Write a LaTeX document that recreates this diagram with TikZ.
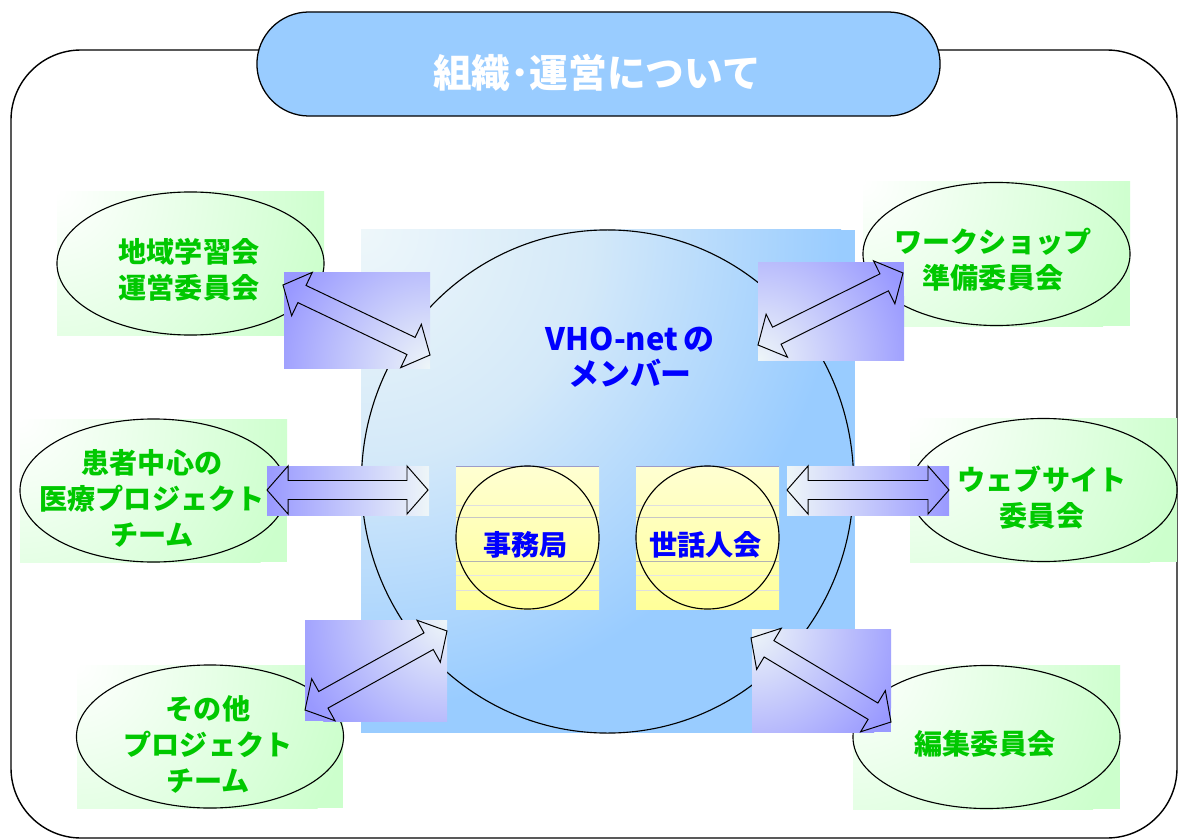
\documentclass[tikz,border=0pt]{standalone}
\usepackage{fontspec}
\setmainfont{Noto Sans CJK JP}
\usetikzlibrary{calc,shapes.geometric}
\definecolor{pillblue}{HTML}{99CCFF}
\definecolor{sqlight}{HTML}{EEF7FA}
\definecolor{sqmid}{HTML}{D4E9F9}
\definecolor{sqblue}{HTML}{99CCFF}
\definecolor{gfill}{HTML}{CCFFCC}
\definecolor{violetA}{HTML}{9999FF}
\definecolor{paleA}{HTML}{EEF6F8}
\definecolor{ytop}{HTML}{FFFFD2}
\definecolor{ybot}{HTML}{FFFF99}
\definecolor{gtext}{HTML}{00C800}
\definecolor{btext}{HTML}{0000FF}
\pgfdeclareradialshading{sqshade}{\pgfpoint{0bp}{0bp}}{color(0bp)=(sqlight); color(12bp)=(sqmid); color(25bp)=(sqblue); color(50bp)=(sqblue)}

\newcommand\dblarrow[2]{%
  \draw[arrowline] (#1)
   -- ($(#1)!0.525cm!(#2)!0.6cm!90:(#2)$)
   -- ($(#1)!0.525cm!(#2)!0.2375cm!90:(#2)$)
   -- ($(#2)!0.525cm!(#1)!0.2375cm!-90:(#1)$)
   -- ($(#2)!0.525cm!(#1)!0.6cm!-90:(#1)$)
   -- (#2)
   -- ($(#2)!0.525cm!(#1)!0.6cm!90:(#1)$)
   -- ($(#2)!0.525cm!(#1)!0.2375cm!90:(#1)$)
   -- ($(#1)!0.525cm!(#2)!0.2375cm!-90:(#2)$)
   -- ($(#1)!0.525cm!(#2)!0.6cm!-90:(#2)$)
   -- cycle;}

\newcommand\greenpanel[5]{%
  \begin{scope}
    \clip (#2,#3) rectangle (#4,#5);
    \fill[gfill] (#2,#3) rectangle (#4,#5);
    \shade[inner color=white, outer color=gfill] (#2,#3) circle (7cm);
  \end{scope}
  \node[panelellipse] (#1) at ($(#2,#3)!0.5!(#4,#5)$) {};}

\newcommand\cornerpanel[6]{% x1 y1 x2 y2 cx cy
  \begin{scope}
    \clip (#1,#2) rectangle (#3,#4);
    \fill[violetA] (#1,#2) rectangle (#3,#4);
    \shade[inner color=paleA, outer color=violetA] (#5,#6) circle (4cm);
  \end{scope}}

\newcommand\yellowbox[4]{%
  \shade[top color=ytop, bottom color=ybot] (#1,#2) rectangle (#3,#4);
  \draw[blue!30!gray!60, line width=0.5pt] (#1,#2) -- (#3,#2);
  \draw[gray!25, line width=0.5pt] (#1,505) -- (#3,505);
  \draw[gray!45, line width=0.5pt] (#1,517) -- (#3,517);
  \draw[gray!60, line width=0.5pt] (#1,561) -- (#3,561);
  \draw[gray!20, line width=0.5pt] (#1,575) -- (#3,575);
  \draw[gray!25, line width=0.5pt] (#1,590) -- (#3,590);}

\begin{document}
\begin{tikzpicture}[x=0.025cm,y=-0.025cm,
  panelellipse/.style={ellipse,draw=black,line width=0.8pt,inner sep=0pt,minimum width=6.675cm,minimum height=3.575cm},
  gtxt/.style={text=gtext,font=\fontsize{20}{25.6}\selectfont\bfseries,align=center,inner sep=0pt},
  btxt/.style={text=btext,font=\fontsize{20}{25.6}\selectfont\bfseries,align=center,inner sep=0pt},
  mtxt/.style={text=btext,font=\fontsize{22}{25}\selectfont\bfseries,align=center,inner sep=0pt},
  ttxt/.style={text=white,font=\fontsize{27.5}{32}\selectfont\bfseries,inner sep=0pt},
  arrowline/.style={draw=black,line width=0.7pt,line join=miter},
  smallcircle/.style={circle,draw=black,line width=0.8pt,inner sep=0pt,minimum size=3.575cm},
  pill/.style={draw=black,line width=0.9pt,fill=pillblue,rounded corners=1.3cm,minimum width=17.075cm,minimum height=2.6cm,inner sep=0pt}
]
\useasboundingbox (0,0) rectangle (1178,840);
\fill[white] (0,0) rectangle (1178,840);

% outer frame
\draw[line width=1pt, rounded corners=1.75cm] (11,50) rectangle (1177,838);

% title
\node[pill] (title) at (598.5,64) {};
\node[ttxt] (titletext) at (597,73) {組織･運営について};

% central square with radial gradient
\begin{scope}
  \clip (361,230) rectangle (855,733);
  \fill[sqblue] (361,230) rectangle (855,733);
  \shade[shading=sqshade] (361,230) circle (12cm);
\end{scope}
\node[ellipse,draw=black,line width=0.8pt,inner sep=0pt,minimum width=12.3cm,minimum height=12.575cm] (members) at (607.5,481.5) {};

% yellow boxes
\yellowbox{456}{466}{599}{609}
\yellowbox{636}{466}{779}{609}
\node[smallcircle] (office) at (527.5,537.5) {};
\node[smallcircle] (organizers) at (707.5,537.5) {};
\node[btxt] (officetext) at (525.5,545) {事務局};
\node[btxt] (organizerstext) at (705.5,545) {世話人会};

% green panels
\greenpanel{e1}{57}{192}{324}{335}
\greenpanel{e2}{863}{182}{1130}{326}
\greenpanel{e3}{20}{419}{287}{562}
\greenpanel{e4}{910}{418}{1177}{562}
\greenpanel{e5}{77}{665}{343}{808}
\greenpanel{e6}{853}{665}{1120}{809}

\node[gtxt] (e1text) at (189,270) {地域学習会\\運営委員会};
\node[gtxt] (e2text) at (993,259.5) {ワークショップ\\準備委員会};
\node[gtxt] (e3text) at (152,498) {患者中心の\\医療プロジェクト\\チーム};
\node[gtxt] (e4text) at (1042,498) {ウェブサイト\\委員会};
\node[gtxt] (e5text) at (208,744) {その他\\プロジェクト\\チーム};
\node[gtxt] (e6text) at (985,744) {編集委員会};

% arrow backgrounds
\cornerpanel{284}{272}{430}{368}{430}{368}
\cornerpanel{758}{262}{904}{360}{758}{360}
\shade[left color=violetA, right color=paleA] (267,466) rectangle (429,515);
\shade[left color=paleA, right color=violetA] (787,466) rectangle (949,515);
\cornerpanel{305}{620}{447}{721}{447}{620}
\cornerpanel{752}{629}{891}{732}{752}{629}

% arrow end points
\coordinate (a1s) at (283,285);  \coordinate (a1e) at (430,355);
\coordinate (a2s) at (758,345);  \coordinate (a2e) at (903,273);
\coordinate (a3s) at (267,490);  \coordinate (a3e) at (428,490);
\coordinate (a4s) at (787,490);  \coordinate (a4e) at (949,490);
\coordinate (a5s) at (305,710);  \coordinate (a5e) at (447,631);
\coordinate (a6s) at (751,638);  \coordinate (a6e) at (891,722);
\dblarrow{a1s}{a1e}
\dblarrow{a2s}{a2e}
\dblarrow{a3s}{a3e}
\dblarrow{a4s}{a4e}
\dblarrow{a5s}{a5e}
\dblarrow{a6s}{a6e}

% member text
\node[mtxt] (memberstext) at (630,357.5) {VHO-net\,の\\メンバー};
\end{tikzpicture}
\end{document}
